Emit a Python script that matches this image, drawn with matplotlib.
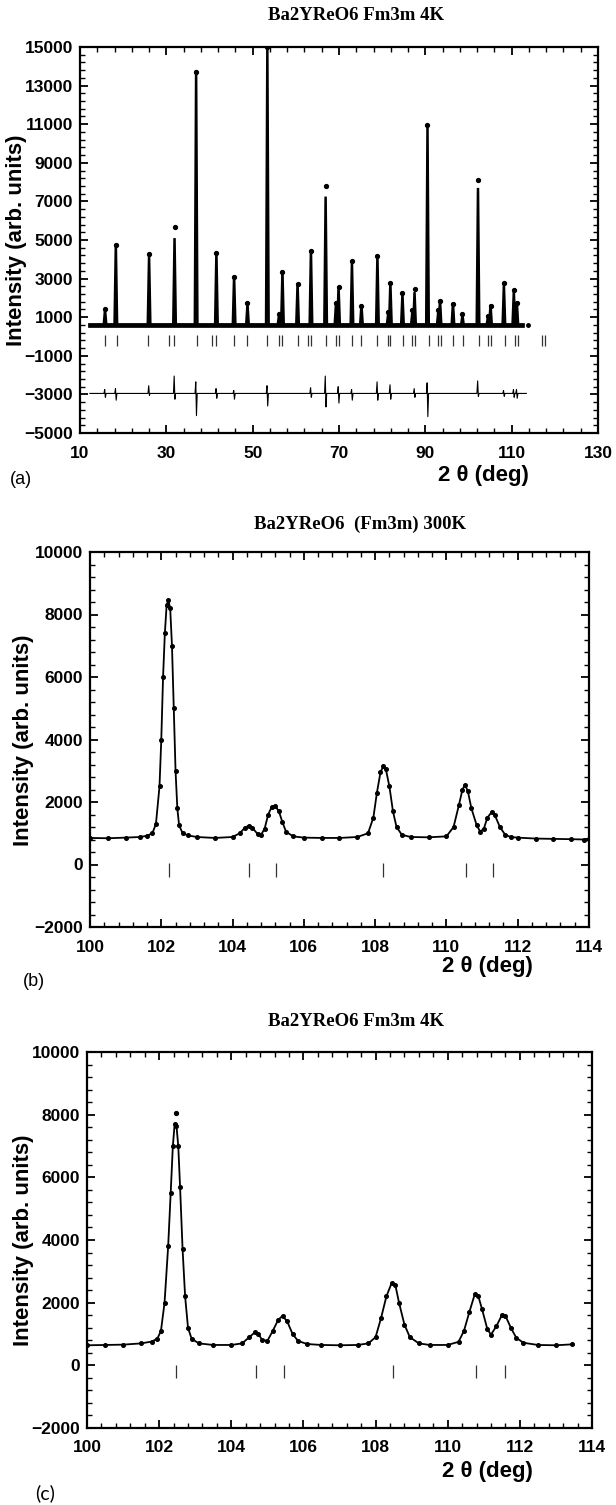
import matplotlib
matplotlib.use("Agg")
import matplotlib.pyplot as plt
from matplotlib.ticker import MultipleLocator

# ---------------- data ----------------
# Panel (a): full pattern, 4 K
a_start, a_end, a_base = 12.3, 112.3, 600
a_last_pt = (113.7, 600)
pk_pos = [15.8, 18.3, 26.0, 31.9, 36.9, 41.6, 45.7, 48.8, 53.4, 56.1, 56.9, 60.4,
          63.5, 66.9, 69.3, 69.9, 73.0, 75.2, 78.9, 81.4, 81.9, 84.7, 87.0, 87.5,
          90.5, 93.0, 93.4, 96.4, 98.6, 102.2, 104.5, 105.1, 108.2, 110.5, 111.2]
pk_calc = [1400, 4800, 4200, 5100, 13800, 4400, 3150, 1700, 15000, 1100, 3400, 2750,
           4500, 7250, 1700, 2600, 3850, 1650, 4200, 1200, 2800, 2200, 1300, 2300,
           10900, 1300, 1900, 1750, 1100, 7700, 1000, 1650, 2700, 2350, 1800]
pk_obs = [1450, 4750, 4250, 5650, 13700, 4350, 3100, 1750, 15000, 1150, 3350, 2700,
          4450, 7800, 1750, 2550, 3900, 1600, 4150, 1250, 2750, 2250, 1350, 2450,
          10950, 1350, 1850, 1700, 1150, 8100, 1050, 1600, 2750, 2400, 1750]
bragg_a = [15.8, 18.5, 25.8, 30.7, 31.8, 37.0, 40.6, 41.6, 45.7, 48.8, 53.4, 56.1,
           56.9, 60.5, 62.9, 63.5, 66.9, 69.3, 70.0, 72.9, 75.2, 78.9, 81.4, 81.9,
           84.8, 87.0, 87.5, 90.8, 92.9, 93.6, 96.3, 98.7, 102.4, 104.5, 105.1,
           108.4, 110.7, 111.5, 117.0, 117.8]
diff_base = -2950
diff_pos = [15.8, 18.3, 26.0, 31.9, 36.9, 41.6, 45.7, 53.4, 63.5, 66.9, 69.9, 73.0,
            78.9, 81.9, 87.5, 90.5, 102.2, 108.2, 110.5, 111.2]
diff_up = [-2750, -2700, -2550, -2050, -2350, -2700, -2800, -2550, -2650, -2050, -2600,
           -2750, -2350, -2500, -2700, -2400, -2300, -2800, -2750, -2750]
diff_dn = [-3150, -3300, -3050, -3250, -4100, -3200, -3250, -3600, -3150, -3650, -3450,
           -3300, -3300, -3250, -3150, -4150, -3100, -3100, -3150, -3200]

# Panel (b): 300 K, zoom 100-114
b_x = [100.0, 100.5, 101.0, 101.4, 101.6, 101.75, 101.85, 101.95, 102.0, 102.05, 102.1,
       102.15, 102.2, 102.25, 102.3, 102.35, 102.4, 102.45, 102.5, 102.6, 102.75, 103.0,
       103.5, 104.0, 104.2, 104.35, 104.45, 104.55, 104.7, 104.8, 104.9, 105.0, 105.1,
       105.2, 105.3, 105.4, 105.5, 105.7, 106.0, 106.5, 107.0, 107.5, 107.8, 107.95,
       108.05, 108.15, 108.23, 108.3, 108.4, 108.5, 108.6, 108.75, 109.0, 109.5, 110.0,
       110.2, 110.35, 110.45, 110.52, 110.6, 110.7, 110.85, 110.95, 111.05, 111.15,
       111.27, 111.35, 111.5, 111.65, 111.8, 112.0, 112.5, 113.0, 113.5, 113.85, 114.0]
b_y = [850, 840, 860, 880, 920, 1000, 1300, 2500, 4000, 6000, 7400,
       8300, 8450, 8200, 7000, 5000, 3000, 1800, 1250, 1000, 930, 880,
       850, 880, 1000, 1180, 1240, 1180, 980, 950, 1150, 1600, 1850,
       1870, 1700, 1350, 1050, 900, 860, 850, 850, 880, 1000, 1500,
       2300, 2950, 3150, 3050, 2500, 1700, 1200, 950, 880, 870, 900,
       1200, 1900, 2400, 2550, 2350, 1800, 1250, 1050, 1150, 1500,
       1680, 1600, 1200, 950, 880, 860, 830, 820, 810, 800, 830]
bragg_b = [102.23, 104.46, 105.23, 108.23, 110.54, 111.32]

# Panel (c): 4 K, zoom 100-114
c_x = [100.0, 100.5, 101.0, 101.5, 101.8, 101.95, 102.05, 102.15, 102.25, 102.32, 102.38,
       102.43, 102.48, 102.53, 102.58, 102.65, 102.72, 102.8, 102.9, 103.1, 103.5, 104.0,
       104.3, 104.5, 104.65, 104.75, 104.85, 105.0, 105.15, 105.3, 105.42, 105.55, 105.7,
       105.85, 106.1, 106.5, 107.0, 107.5, 107.8, 108.0, 108.15, 108.3, 108.45, 108.55,
       108.65, 108.8, 108.95, 109.2, 109.5, 110.0, 110.3, 110.45, 110.6, 110.75, 110.85,
       110.95, 111.1, 111.2, 111.35, 111.5, 111.6, 111.75, 111.9, 112.1, 112.5, 113.0, 113.45]
c_y = [640, 650, 660, 700, 760, 850, 1100, 2000, 3800, 5500, 7000,
       7700, 7650, 7000, 5700, 3700, 2200, 1200, 850, 700, 650, 650,
       700, 900, 1050, 1000, 820, 780, 1100, 1450, 1580, 1400, 1000,
       780, 680, 650, 640, 650, 700, 900, 1500, 2200, 2640, 2550,
       2000, 1300, 900, 700, 650, 650, 750, 1100, 1700, 2270, 2200,
       1800, 1150, 980, 1250, 1600, 1580, 1200, 880, 720, 650, 640, 670]
c_top = (102.47, 8050)
bragg_c = [102.47, 104.69, 105.45, 108.49, 110.79, 111.58]

# ---------------- figure ----------------
W, H = 616, 1505
fig = plt.figure(figsize=(W / 100, H / 100), dpi=100)
SANS = "Liberation Sans"
SERIF = "Liberation Serif"


def add_ax(l, r, t, b):
    return fig.add_axes([l / W, 1 - b / H, (r - l) / W, (b - t) / H])


def ftext(x, y, s, **kw):
    fig.text(x / W, 1 - y / H, s, **kw)


def style(ax, xmaj, xmin, ymaj, ymin, xoff=0, xmoff=0, yoff=0, ymoff=0):
    ax.xaxis.set_major_locator(MultipleLocator(xmaj, offset=xoff))
    ax.xaxis.set_minor_locator(MultipleLocator(xmin, offset=xmoff))
    ax.yaxis.set_major_locator(MultipleLocator(ymaj, offset=yoff))
    ax.yaxis.set_minor_locator(MultipleLocator(ymin, offset=ymoff))
    ax.tick_params(which="both", direction="in", top=True, right=True, width=1.3)
    ax.tick_params(which="major", length=5.5)
    ax.tick_params(which="minor", length=3.5, width=1.0)
    ax.tick_params(axis="x", which="major", pad=9)
    ax.tick_params(axis="y", which="major", pad=5)
    for sp in ax.spines.values():
        sp.set_linewidth(1.6)
    for lab in ax.get_xticklabels() + ax.get_yticklabels():
        lab.set_fontfamily(SANS)
        lab.set_fontweight("bold")
        lab.set_fontsize(12.5)


# ---- panel (a)
axa = add_ax(80, 598, 47, 433)
xs, ys = [a_start], [a_base]
for p, h in zip(pk_pos, pk_calc):
    xs += [p - 0.3, p, p + 0.3]
    ys += [a_base, h, a_base]
xs.append(a_end)
ys.append(a_base)
axa.plot(xs, ys, color="black", lw=1.8, solid_joinstyle="miter")
axa.plot([a_start, a_end], [a_base, a_base], color="black", lw=3.4)
axa.plot(pk_pos, pk_obs, "o", color="black", ms=2.8)
axa.plot([a_last_pt[0]], [a_last_pt[1]], "o", color="black", ms=2.5)
axa.vlines(bragg_a, -500, 100, color="#333333", lw=0.9)
dx, dy = [a_start], [diff_base]
for p, u, d in zip(diff_pos, diff_up, diff_dn):
    dx += [p - 0.25, p - 0.08, p + 0.08, p + 0.25]
    dy += [diff_base, u, d, diff_base]
dx.append(113.4)
dy.append(diff_base)
axa.plot(dx, dy, color="black", lw=0.8)
axa.set_xlim(10, 130)
axa.set_ylim(-5000, 15000)
style(axa, 20, 4, 2000, 400, xoff=10, xmoff=2, yoff=1000, ymoff=200)

# ---- panel (b)
axb = add_ax(90, 589, 552, 927)
axb.plot(b_x, b_y, "-o", color="black", lw=1.3, ms=2.6)
axb.vlines(bragg_b, -400, 50, color="#333333", lw=0.9)
axb.set_xlim(100, 114)
axb.set_ylim(-2000, 10000)
style(axb, 2, 0.4, 2000, 400)

# ---- panel (c)
axc = add_ax(87, 592, 1052, 1428)
axc.plot(c_x, c_y, "-o", color="black", lw=1.3, ms=2.6)
axc.plot([c_top[0]], [c_top[1]], "o", color="black", ms=2.8)
axc.vlines(bragg_c, -400, 0, color="#333333", lw=0.9)
axc.set_xlim(100, 114)
axc.set_ylim(-2000, 10000)
style(axc, 2, 0.4, 2000, 400)

# ---- texts
tkw = dict(ha="center", va="center", family=SERIF, weight="bold", fontsize=13.5)
ftext(356, 16, "Ba2YReO6 Fm3m 4K", **tkw)
ftext(360, 524, "Ba2YReO6  (Fm3m) 300K", **tkw)
ftext(356, 1021, "Ba2YReO6 Fm3m 4K", **tkw)

xl = dict(ha="center", va="center", family=SANS, weight="bold", fontsize=16)
ftext(483, 475, "2 θ (deg)", **xl)
ftext(487, 967, "2 θ (deg)", **xl)
ftext(487, 1472, "2 θ (deg)", **xl)

yl = dict(ha="center", va="center", family=SANS, weight="bold", fontsize=16, rotation=90)
ftext(17, 240, "Intensity (arb. units)", **yl)
ftext(24, 740, "Intensity (arb. units)", **yl)
ftext(24, 1240, "Intensity (arb. units)", **yl)

pl = dict(ha="center", va="center", family=SANS, fontsize=13)
ftext(21, 480, "(a)", **pl)
ftext(34, 982, "(b)", **pl)
ftext(45, 1493, "(c)", ha="center", va="center", family="Lato", fontsize=14)

fig.savefig("out.png", dpi=100, facecolor="white")
